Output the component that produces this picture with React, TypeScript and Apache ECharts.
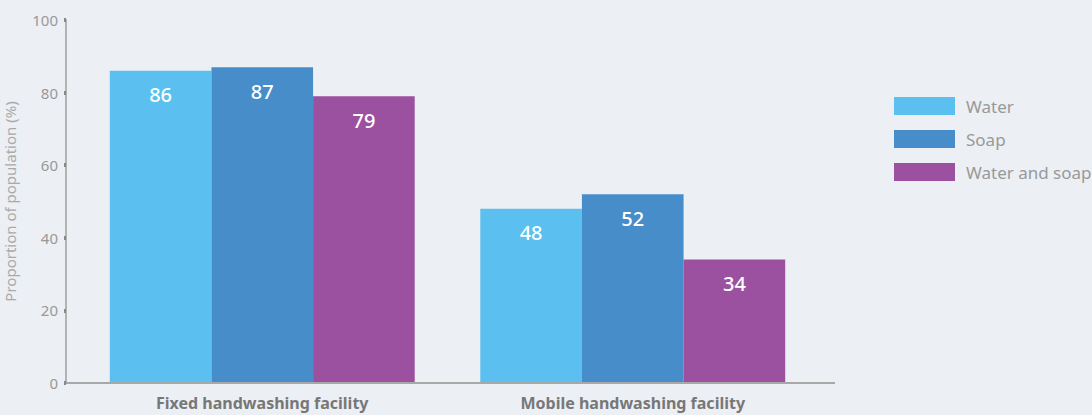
import React, { useEffect, useRef } from "react";
import * as echarts from "echarts";

const categories = ["Fixed handwashing facility", "Mobile handwashing facility"];
const water = [86, 48];
const soap = [87, 52];
const waterAndSoap = [79, 34];
const seriesNames = ["Water", "Soap", "Water and soap"];
const yTicks = [0, 20, 40, 60, 80, 100];

export default function App() {
  const ref = useRef<HTMLDivElement>(null);
  useEffect(() => {
    if (!ref.current) return;
    const chart = echarts.init(ref.current, null, { renderer: "svg" });
    const font = "'Noto Sans', sans-serif";
    const label = {
      show: true,
      position: "insideTop",
      distance: 14,
      color: "#ffffff",
      fontSize: 20,
      fontWeight: 500,
      fontFamily: font,
    };
    const colors = ["#5bbfef", "#478dca", "#9b51a0"];
    const data = [water, soap, waterAndSoap];
    chart.setOption({
      animation: false,
      backgroundColor: "#eceff4",
      textStyle: { fontFamily: font },
      color: colors,
      legend: {
        orient: "vertical",
        left: 889,
        top: 92,
        itemWidth: 61,
        itemHeight: 18,
        itemGap: 15,
        icon: "rect",
        textStyle: {
          color: "#999999",
          fontSize: 17,
          lineHeight: 18,
          fontFamily: font,
          padding: [0, 0, 0, 6],
        },
        data: seriesNames,
      },
      grid: {
        left: 77,
        right: 274,
        top: 20,
        bottom: 32,
        containLabel: false,
        outerBoundsMode: "none",
      },
      xAxis: {
        type: "category",
        data: categories,
        axisLine: { show: false },
        axisTick: { show: false },
        axisLabel: {
          color: "#777777",
          fontSize: 16,
          fontWeight: "bold",
          fontFamily: font,
          margin: 12,
        },
      },
      yAxis: {
        type: "value",
        min: yTicks[0],
        max: yTicks[yTicks.length - 1],
        interval: 20,
        offset: 11,
        name: "Proportion of population (%)",
        nameLocation: "middle",
        nameGap: 49,
        nameTextStyle: { color: "#aaaaaa", fontSize: 15, fontFamily: font },
        axisLine: { show: true, lineStyle: { color: "#b3b3b3", width: 2 } },
        axisTick: { show: true, length: 2, lineStyle: { color: "#888888", width: 4 } },
        splitLine: { show: false },
        axisLabel: { color: "#999999", fontSize: 15, fontFamily: font, margin: 8 },
      },
      graphic: [
        {
          type: "line",
          shape: { x1: 66, y1: 383, x2: 835, y2: 383 },
          style: { stroke: "#a8a8a8", lineWidth: 2 },
          z: 10,
        },
      ],
      series: seriesNames.map((name, i) => ({
        name,
        type: "bar",
        data: data[i],
        barGap: "0%",
        barCategoryGap: "17.7%",
        label,
        itemStyle: { color: colors[i] },
      })),
    });
    return () => chart.dispose();
  }, []);
  return (
    <div
      ref={ref}
      style={{ position: "fixed", left: 0, top: 0, width: 1092, height: 415 }}
    />
  );
}
